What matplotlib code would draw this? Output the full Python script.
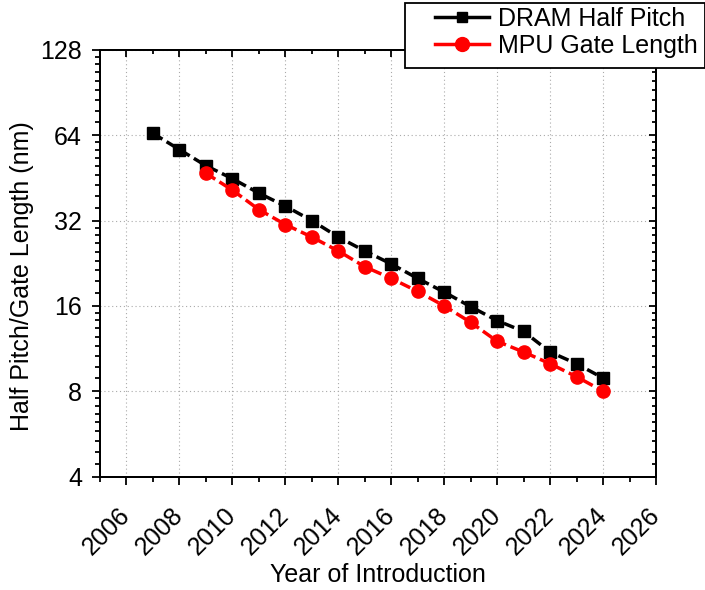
import matplotlib
matplotlib.use("Agg")
import matplotlib.pyplot as plt
import numpy as np
from matplotlib.lines import Line2D
from matplotlib.patches import Rectangle
from matplotlib.ticker import FixedLocator, FixedFormatter, NullFormatter

plt.rcParams['font.family'] = ['Liberation Sans', 'DejaVu Sans']
plt.rcParams['font.size'] = 18

# roadmap values (nm)
dram_years = list(range(2007, 2025))
dram_half_pitch = [65, 57, 50, 45, 40, 36, 32, 28, 25, 22.5, 20, 17.9, 15.9, 14.2, 13, 11, 10, 8.9]
mpu_years = list(range(2009, 2025))
mpu_gate_length = [47, 41, 35, 31, 28, 25, 22, 20, 18, 16, 14, 12, 11, 10, 9, 8]

year_ticks = list(range(2006, 2027, 2))
y_ticks = [4, 8, 16, 32, 64, 128]

fig = plt.figure(figsize=(7.05, 5.9), dpi=100)
ax = fig.add_axes([100 / 705, 1 - 476.5 / 590, 556 / 705, 426.5 / 590])

ax.plot(dram_years, dram_half_pitch, color='black', lw=2.5, ls=(0, (3.2, 1.4)),
        marker='s', ms=8.5, mew=1, zorder=3)
ax.plot(mpu_years, mpu_gate_length, color='red', lw=2.5, ls=(0, (3.2, 1.4)),
        marker='o', ms=9.5, mew=1, zorder=3)

ax.set_yscale('log', base=2)
ax.set_xlim(2005, 2026)
ax.set_ylim(4, 128)

minor_y = [b * (1 + k / 9) for b in y_ticks[:-1] for k in range(1, 9)]
minor_x = list(range(2005, 2027, 2))

ax.xaxis.set_major_locator(FixedLocator(year_ticks))
ax.xaxis.set_minor_locator(FixedLocator(minor_x))
ax.xaxis.set_major_formatter(FixedFormatter([str(y) for y in year_ticks]))
ax.yaxis.set_major_locator(FixedLocator(y_ticks))
ax.yaxis.set_minor_locator(FixedLocator(minor_y))
ax.yaxis.set_major_formatter(FixedFormatter([str(v) for v in y_ticks]))
ax.yaxis.set_minor_formatter(NullFormatter())

for s in ax.spines.values():
    s.set_linewidth(1.3)
ax.tick_params(which='both', direction='out', width=1.3, top=False, right=False)
ax.tick_params(which='major', length=6)
ax.tick_params(which='minor', length=3.3)
ax.tick_params(axis='y', pad=7)
ax.tick_params(axis='x', pad=19)
for lab in ax.get_xticklabels():
    lab.set_rotation(45)
    lab.set_ha('right')
    lab.set_va('center')
    lab.set_rotation_mode('anchor')

ax.grid(True, which='major', color='#aaaaaa', ls=(0, (1, 2.5)), lw=0.8)
ax.set_axisbelow(True)

# inward ticks on top and right
axt = ax.twiny()
axt.set_xlim(ax.get_xlim())
axt.xaxis.set_major_locator(FixedLocator(year_ticks))
axt.xaxis.set_minor_locator(FixedLocator(minor_x))
axt.tick_params(which='both', direction='in', width=1.3, labeltop=False)
axt.tick_params(which='major', length=5)
axt.tick_params(which='minor', length=3)

axr = ax.twinx()
axr.set_yscale('log', base=2)
axr.set_ylim(ax.get_ylim())
axr.yaxis.set_major_locator(FixedLocator(y_ticks))
axr.yaxis.set_minor_locator(FixedLocator(minor_y))
axr.yaxis.set_major_formatter(NullFormatter())
axr.yaxis.set_minor_formatter(NullFormatter())
axr.tick_params(which='both', direction='in', width=1.3)
axr.tick_params(which='major', length=5)
axr.tick_params(which='minor', length=3)
for a in (axt, axr):
    for s in a.spines.values():
        s.set_linewidth(1.3)

fig.text(22 / 705, 1 - 276 / 590, 'Half Pitch/Gate Length (nm)', rotation=90,
         ha='center', va='center')
fig.text(378 / 705, 1 - 575 / 590, 'Year of Introduction', ha='center', va='center')

# legend box sitting over the top-right corner
fig.patches.append(Rectangle((405 / 705, 1 - 68 / 590), 300 / 705, 65 / 590,
                             transform=fig.transFigure, facecolor='white',
                             edgecolor='black', lw=1.3, zorder=4))
handles = [Line2D([], [], color='black', lw=2.5, marker='s', ms=7),
           Line2D([], [], color='red', lw=2.5, marker='o', ms=10)]
fig.legend(handles, ['DRAM Half Pitch', 'MPU Gate Length'], loc='upper left',
           bbox_to_anchor=(435 / 705, 1 - 7 / 590), frameon=False, borderpad=0,
           borderaxespad=0, handlelength=2.16, handletextpad=0.36, labelspacing=0.1)

fig.savefig('out.png', dpi=100)
